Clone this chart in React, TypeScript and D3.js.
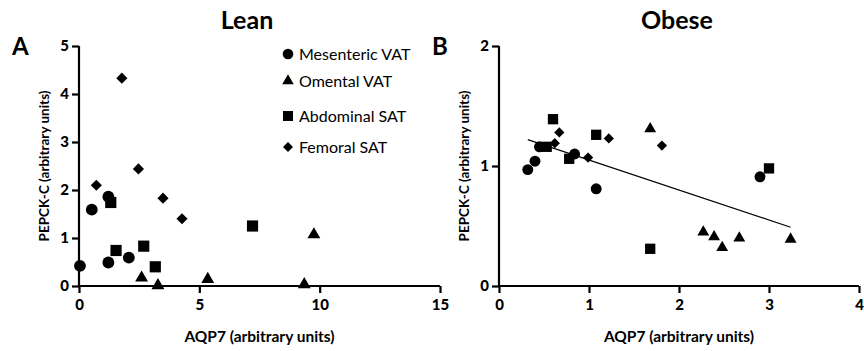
import React, { useEffect, useRef } from "react";
import * as d3 from "d3";

// Lean panel (A)
const leanMesenteric = [[0.04, 0.42], [0.53, 1.59], [1.22, 1.86], [1.22, 0.49], [2.07, 0.59]];
const leanOmental = [[2.6, 0.17], [3.28, 0.01], [5.35, 0.14], [9.36, 0.03], [9.76, 1.07]];
const leanAbdominal = [[1.32, 1.74], [1.54, 0.74], [2.69, 0.83], [3.17, 0.4], [7.21, 1.25]];
const leanFemoral = [[0.72, 2.1], [1.78, 4.33], [2.47, 2.44], [3.49, 1.83], [4.28, 1.4]];

// Obese panel (B)
const obeseMesenteric = [[0.32, 0.97], [0.4, 1.04], [0.45, 1.16], [0.84, 1.1], [1.08, 0.81], [2.9, 0.91]];
const obeseOmental = [[1.68, 1.31], [2.27, 0.45], [2.39, 0.41], [2.48, 0.32], [2.67, 0.4], [3.24, 0.39]];
const obeseAbdominal = [[0.53, 1.16], [0.6, 1.39], [0.78, 1.06], [1.08, 1.26], [1.68, 0.31], [3.0, 0.98]];
const obeseFemoral = [[0.62, 1.19], [0.67, 1.28], [0.99, 1.07], [1.22, 1.23], [1.81, 1.17]];
const obeseFit = [[0.32, 1.22], [3.24, 0.49]];

const seriesNames = ["Mesenteric VAT", "Omental VAT", "Abdominal SAT", "Femoral SAT"];
const symbolTypes = [d3.symbolCircle, d3.symbolTriangle, d3.symbolSquare, d3.symbolSquare];
const symbolSizes = [110, 72, 125, 62];
const symbolRotate = [0, 0, 0, 45];

const leanXTicks = [0, 5, 10, 15];
const leanYTicks = [0, 1, 2, 3, 4, 5];
const obeseXTicks = [0, 1, 2, 3, 4];
const obeseYTicks = [0, 1, 2];

const FONT = "Lato, 'Open Sans', sans-serif";

export default function App() {
  const ref = useRef<SVGSVGElement>(null);

  useEffect(() => {
    const svg = d3.select(ref.current);
    svg.selectAll("*").remove();

    function panel(opts: any) {
      const g = svg.append("g");
      const x = d3.scaleLinear().domain(opts.xDomain).range([opts.left, opts.right]);
      const y = d3.scaleLinear().domain(opts.yDomain).range([286, 46]);

      const xa = g.append("g").attr("transform", "translate(0,286)")
        .call(d3.axisBottom(x).tickValues(opts.xTicks).tickSize(7).tickPadding(6).tickFormat(d3.format("d")));
      const ya = g.append("g").attr("transform", `translate(${opts.left},0)`)
        .call(d3.axisLeft(y).tickValues(opts.yTicks).tickSize(7).tickPadding(3).tickFormat(d3.format("d")));
      [xa, ya].forEach(a => {
        a.select(".domain").attr("stroke", "#000").attr("stroke-width", 2.2);
        a.selectAll(".tick line").attr("stroke", "#000").attr("stroke-width", 2.2);
        a.selectAll(".tick text").attr("font-family", FONT).attr("font-weight", 900)
          .attr("font-size", 15).attr("fill", "#000");
      });
      xa.select(".domain").attr("d", `M${opts.left},0H${opts.right}`);
      ya.select(".domain").attr("d", `M0,${y(opts.yDomain[1])}V${y(opts.yDomain[0])}`);

      if (opts.fit) {
        g.append("path")
          .attr("d", d3.line().x((d: any) => x(d[0])).y((d: any) => y(d[1]))(opts.fit))
          .attr("stroke", "#000").attr("stroke-width", 1.2).attr("fill", "none");
      }

      opts.series.forEach((data: number[][], i: number) => {
        g.selectAll(null).data(data).join("path")
          .attr("transform", d => `translate(${x(d[0])},${y(d[1])}) rotate(${symbolRotate[i]})`)
          .attr("d", d3.symbol().type(symbolTypes[i]).size(symbolSizes[i] * opts.scale)())
          .attr("fill", "#000");
      });

      const cx = (opts.left + opts.right) / 2;
      g.append("text").attr("x", cx).attr("y", 342).attr("text-anchor", "middle")
        .attr("font-family", FONT).attr("font-weight", "bold").attr("font-size", 15.5)
        .text("AQP7 (arbitrary units)");
      g.append("text").attr("transform", `translate(${opts.left - 30},166) rotate(-90)`)
        .attr("text-anchor", "middle")
        .attr("font-family", FONT).attr("font-weight", "bold").attr("font-size", 13.5)
        .text("PEPCK-C (arbitrary units)");
      g.append("text").attr("x", opts.titleX).attr("y", 29).attr("text-anchor", "middle")
        .attr("font-family", FONT).attr("font-weight", "bold").attr("font-size", 25)
        .text(opts.title);
      g.append("text").attr("x", opts.left - 67).attr("y", 55)
        .attr("font-family", FONT).attr("font-weight", "bold").attr("font-size", 24)
        .text(opts.letter);
    }

    panel({
      xDomain: [0, 15], yDomain: [0, 5], left: 79, right: 440,
      xTicks: leanXTicks, yTicks: leanYTicks, scale: 1,
      series: [leanMesenteric, leanOmental, leanAbdominal, leanFemoral],
      title: "Lean", titleX: 247, letter: "A",
    });
    panel({
      xDomain: [0, 4], yDomain: [0, 2], left: 499, right: 859,
      xTicks: obeseXTicks, yTicks: obeseYTicks, scale: 0.85,
      series: [obeseMesenteric, obeseOmental, obeseAbdominal, obeseFemoral],
      fit: obeseFit,
      title: "Obese", titleX: 677, letter: "B",
    });

    // legend
    const legend = svg.append("g");
    const rowY = [54, 81, 116, 147];
    seriesNames.forEach((name, i) => {
      legend.append("path")
        .attr("transform", `translate(288,${rowY[i]}) rotate(${symbolRotate[i]})`)
        .attr("d", d3.symbol().type(symbolTypes[i]).size(symbolSizes[i] * 0.8)())
        .attr("fill", "#000");
      legend.append("text").attr("x", 299).attr("y", rowY[i] + 5.5)
        .attr("font-family", FONT).attr("font-size", 16).text(name);
    });
  }, []);

  return (
    <svg ref={ref} width={864} height={351}
      style={{ position: "absolute", left: 0, top: 0, background: "#fff" }} />
  );
}
